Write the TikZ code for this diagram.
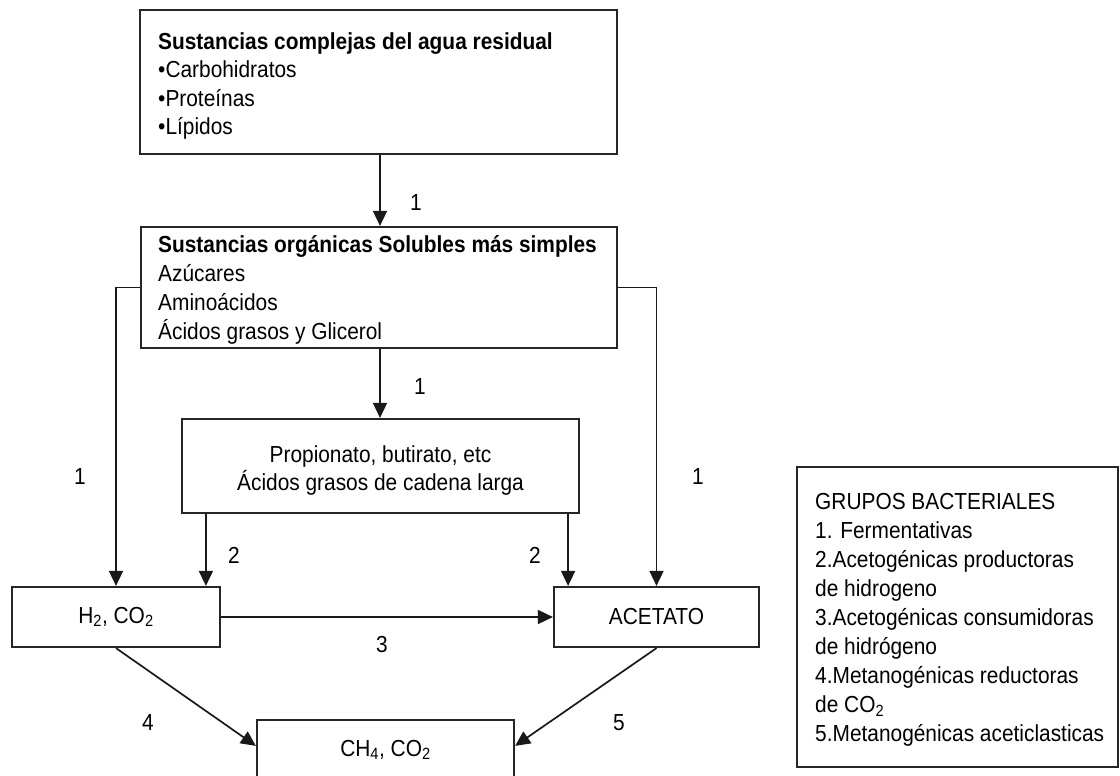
\documentclass[tikz,border=0pt]{standalone}
\usepackage{fontspec}
\setmainfont{Liberation Sans}[FakeStretch=0.9]
\usetikzlibrary{arrows.meta,calc}
\begin{document}
\begin{tikzpicture}[x=1pt,y=-1pt,
  box/.style={draw=black!85, line width=2.2pt, inner sep=0pt},
  txt/.style={font=\fontsize{23.2}{28.3}\selectfont, inner sep=0pt, align=left},
  ltxt/.style={font=\fontsize{23.2}{29}\selectfont, inner sep=0pt, align=left},
  ctxt/.style={font=\fontsize{23.2}{28}\selectfont, inner sep=0pt, align=center},
  arr/.style={draw=black!90, line width=1.7pt, -{Triangle[length=15pt,width=14pt]}},
  lbl/.style={font=\fontsize{23.2}{25}\selectfont, inner sep=0pt}]
\useasboundingbox (0,0) rectangle (1120,776);
\clip (0,0) rectangle (1120,776);

% boxes
\node[box, minimum width=477pt, minimum height=144pt] (top) at (378.5,82) {};
\node[txt, anchor=west] (toptxt) at (158,86)
  {\textbf{Sustancias complejas del agua residual}\\•Carbohidratos\\•Proteínas\\•Lípidos};

\node[box, minimum width=476pt, minimum height=121pt] (sec) at (379,287.5) {};
\node[ltxt, anchor=west] (sectxt) at (158,289.5)
  {\textbf{Sustancias orgánicas Solubles más simples}\\Azúcares\\Aminoácidos\\Ácidos grasos y Glicerol};

\node[box, minimum width=397pt, minimum height=94pt] (mid) at (380.5,466) {};
\node[ctxt] (midtxt) at (380.5,470.5) {Propionato, butirato, etc\\Ácidos grasos de cadena larga};

\node[box, ctxt, minimum width=208pt, minimum height=60pt] (h2) at (116,617) {H\textsubscript{2}, CO\textsubscript{2}};
\node[box, ctxt, minimum width=205pt, minimum height=60pt] (ace) at (656.5,617) {ACETATO};
\node[box, ctxt, minimum width=257pt, minimum height=60pt] (ch4) at (385.5,750) {CH\textsubscript{4}, CO\textsubscript{2}};

\node[box, minimum width=321pt, minimum height=300pt] (leg) at (957.5,617) {};
\node[ltxt, anchor=west] (legtxt) at (815,620)
  {GRUPOS BACTERIALES\\1. Fermentativas\\2.Acetogénicas productoras\\de hidrogeno\\3.Acetogénicas consumidoras\\de hidrógeno\\4.Metanogénicas reductoras\\de CO\textsubscript{2}\\5.Metanogénicas aceticlasticas};

% connectors
\coordinate (cx) at (380,0);
\draw[arr] (top.south -| cx) -- (sec.north -| cx);
\draw[arr] (sec.south -| cx) -- (mid.north -| cx);
\draw[arr] (sec.west) -| (h2.north);
\draw[arr] (sec.east) -| (ace.north);
\draw[arr] ([xshift=25pt]mid.south west) -- ([xshift=25pt]mid.south west |- h2.north);
\draw[arr] ([xshift=-12pt]mid.south east) -- ([xshift=-12pt]mid.south east |- ace.north);
\draw[arr] (h2.east) -- (ace.west);
\draw[arr] (h2.south) -- ([yshift=-27pt]ch4.north west);
\draw[arr] (ace.south) -- ([yshift=-27pt]ch4.north east);

% labels
\node[lbl] (l1a) at (416,203) {1};
\node[lbl] (l1b) at (420,387) {1};
\node[lbl] (l1c) at (80,477) {1};
\node[lbl] (l1d) at (698,477) {1};
\node[lbl] (l2a) at (234,555) {2};
\node[lbl] (l2b) at (535,555) {2};
\node[lbl] (l3) at (382,645) {3};
\node[lbl] (l4) at (148,723) {4};
\node[lbl] (l5) at (619,723) {5};
\end{tikzpicture}
\end{document}
